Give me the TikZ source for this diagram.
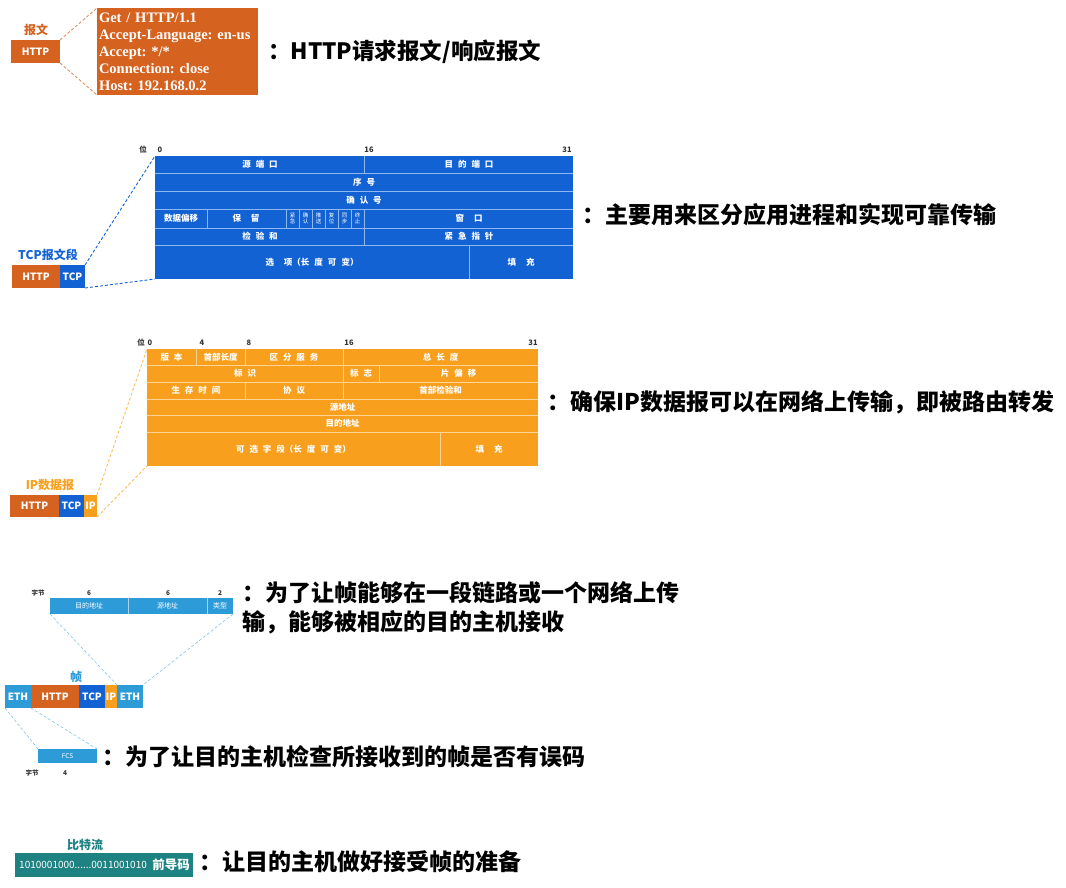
\documentclass[tikz,border=0pt]{standalone}
\usepackage{fontspec}
\newfontfamily\cjk{Noto Sans CJK SC}
\newfontfamily\tms{Liberation Serif}
\definecolor{httpc}{HTML}{D5621F}
\definecolor{tcpc}{HTML}{1262D4}
\definecolor{tcpl}{HTML}{8DB9F2}
\definecolor{ipc}{HTML}{F8A01E}
\definecolor{ipl}{HTML}{FCD594}
\definecolor{ethc}{HTML}{2E9BD9}
\definecolor{ethl}{HTML}{A9D4F0}
\definecolor{bitc}{HTML}{1E8282}
\definecolor{numc}{HTML}{333333}
\newcommand\mybox[7]{\node[blk, fill=#6, minimum width=#4pt, minimum height=#5pt] (#1) at (#2,#3) {#7};}
\newcommand\gsp{\hspace{5pt}}
\frenchspacing
\begin{document}
\begin{tikzpicture}[x=1pt,y=-1pt,
  blk/.style={inner sep=0pt, outer sep=0pt, anchor=north west, text=white, font=\cjk\bfseries\fontsize{10}{11}\selectfont},
  lbl/.style={inner sep=0pt, text=white, font=\cjk\bfseries\fontsize{8.5}{9}\selectfont},
  flg/.style={inner sep=0pt, text=white, align=center, font=\cjk\fontsize{5.5}{6.5}\selectfont},
  num/.style={inner sep=0pt, text=numc, font=\cjk\bfseries\fontsize{7.5}{8}\selectfont},
  ttl/.style={inner sep=0pt, font=\cjk\bfseries\fontsize{12}{13}\selectfont},
  desc/.style={inner sep=0pt, anchor=west, text=black, font=\cjk\bfseries\fontsize{23}{29}\selectfont},
  conn/.style={dashed, line width=0.9pt, dash pattern=on 3pt off 2pt}
]
\useasboundingbox (0,0) rectangle (1066,888);

% ---------------- HTTP ----------------
\node[ttl, text=httpc] (lbhttp) at (36,30) {报文};
\mybox{http1}{11}{40}{49}{23}{httpc}{HTTP}
\node[inner sep=0pt, outer sep=0pt, anchor=north west, fill=httpc, minimum width=161pt, minimum height=87pt,
      text width=157pt, inner xsep=2pt, align=left, text=white,
      font=\tms\bfseries\fontsize{14.5}{17}\selectfont] (msg) at (97,8)
  {Get / HTTP/1.1\\Accept-Language: en-us\\Accept: */*\\Connection: close\\Host: 192.168.0.2};
\draw[conn, draw=httpc!70] (http1.north east) -- (msg.north west);
\draw[conn, draw=httpc!70] (http1.south east) -- (msg.south west);
\node[desc, font=\cjk\bfseries\fontsize{22.5}{29}\selectfont] (d1) at (268,52) {：HTTP请求报文/响应报文};

% ---------------- TCP ----------------
\node[num] (tb) at (143,150) {位};
\node[num] (t0) at (160,150) {0};
\node[num] (t16) at (369,150) {16};
\node[num] (t31) at (567,150) {31};
\node[inner sep=0pt, outer sep=0pt, anchor=north west, fill=tcpc, minimum width=418pt, minimum height=123pt] (tcph) at (155,156) {};
\begin{scope}[draw=tcpl, line width=0.8pt]
  \foreach \y in {173,191,209,228,245} \draw (155,\y) -- (573,\y);
  \draw (364,156) -- (364,173);
  \foreach \x in {207,286,299,312,325,338,351,364} \draw (\x,209) -- (\x,228);
  \draw (364,228) -- (364,245);
  \draw (469,245) -- (469,279);
\end{scope}
\node[lbl] at (260,164.5) {源\gsp 端\gsp 口};
\node[lbl] at (469,164.5) {目\gsp 的\gsp 端\gsp 口};
\node[lbl] at (364,182) {序\gsp 号};
\node[lbl] at (364,200) {确\gsp 认\gsp 号};
\node[lbl] at (181,218.5) {数据偏移};
\node[lbl] at (246,218.5) {保\gsp\gsp 留};
\node[flg] at (292.5,218.5) {紧\\急};
\node[flg] at (305.5,218.5) {确\\认};
\node[flg] at (318.5,218.5) {推\\送};
\node[flg] at (331.5,218.5) {复\\位};
\node[flg] at (344.5,218.5) {同\\步};
\node[flg] at (357.5,218.5) {终\\止};
\node[lbl] at (469,218.5) {窗\gsp\gsp 口};
\node[lbl] at (260,236.5) {检\gsp 验\gsp 和};
\node[lbl] at (469,236.5) {紧\gsp 急\gsp 指\gsp 针};
\node[lbl] at (312,262) {选\gsp\gsp 项（长\gsp 度\gsp 可\gsp 变）};
\node[lbl] at (521,262) {填\gsp\gsp 充};
\node[ttl, text=tcpc] (lbtcp) at (48,255) {TCP报文段};
\mybox{tcphttp}{12}{265}{48}{23}{httpc}{HTTP}
\mybox{tcptcp}{60}{265}{25}{23}{tcpc}{TCP}
\draw[conn, draw=tcpc] (tcptcp.north east) -- (tcph.north west);
\draw[conn, draw=tcpc] (tcptcp.south east) -- (tcph.south west);
\node[desc] (d2) at (582,215) {：主要用来区分应用进程和实现可靠传输};

% ---------------- IP ----------------
\node[num] (ib) at (141,343) {位};
\node[num] (i0) at (150,343) {0};
\node[num] (i4) at (202,343) {4};
\node[num] (i8) at (249,343) {8};
\node[num] (i16) at (349,343) {16};
\node[num] (i31) at (533,343) {31};
\node[inner sep=0pt, outer sep=0pt, anchor=north west, fill=ipc, minimum width=391pt, minimum height=117pt] (iph) at (147,349) {};
\begin{scope}[draw=ipl, line width=0.8pt]
  \foreach \y in {365,382,399,415,432} \draw (147,\y) -- (538,\y);
  \foreach \x in {196,245,343} \draw (\x,349) -- (\x,365);
  \foreach \x in {343,379} \draw (\x,365) -- (\x,382);
  \foreach \x in {245,343} \draw (\x,382) -- (\x,399);
  \draw (440,432) -- (440,466);
\end{scope}
\node[lbl] at (171.5,357) {版\gsp 本};
\node[lbl] at (220.5,357) {首部长度};
\node[lbl] at (294,357) {区\gsp 分\gsp 服\gsp 务};
\node[lbl] at (440.5,357) {总\gsp 长\gsp 度};
\node[lbl] at (245,373.5) {标\gsp 识};
\node[lbl] at (361,373.5) {标\gsp 志};
\node[lbl] at (458.5,373.5) {片\gsp 偏\gsp 移};
\node[lbl] at (196,390.5) {生\gsp 存\gsp 时\gsp 间};
\node[lbl] at (294,390.5) {协\gsp 议};
\node[lbl] at (440.5,390.5) {首部检验和};
\node[lbl] at (342.5,407) {源地址};
\node[lbl] at (342.5,423.5) {目的地址};
\node[lbl] at (293.5,449) {可\gsp 选\gsp 字\gsp 段（长\gsp 度\gsp 可\gsp 变）};
\node[lbl] at (489,449) {填\gsp\gsp 充};
\node[ttl, text=ipc] (lbip) at (50,485) {IP数据报};
\mybox{iphttp}{10}{495}{49}{22}{httpc}{HTTP}
\mybox{iptcp}{59}{495}{25}{22}{tcpc}{TCP}
\mybox{ipip}{84}{495}{13}{22}{ipc}{IP}
\draw[conn, draw=ipc!70] (ipip.north east) -- (iph.north west);
\draw[conn, draw=ipc!70] (ipip.south east) -- (iph.south west);
\node[desc] (d3) at (547,402) {：确保IP数据报可以在网络上传输，即被路由转发};

% ---------------- Ethernet ----------------
\node[num, font=\cjk\bfseries\fontsize{6.5}{7}\selectfont] (eb1) at (38,593) {字节};
\node[num, font=\cjk\bfseries\fontsize{6.5}{7}\selectfont] (e6a) at (89,593) {6};
\node[num, font=\cjk\bfseries\fontsize{6.5}{7}\selectfont] (e6b) at (168,593) {6};
\node[num, font=\cjk\bfseries\fontsize{6.5}{7}\selectfont] (e2) at (220,593) {2};
\node[inner sep=0pt, outer sep=0pt, anchor=north west, fill=ethc, minimum width=183pt, minimum height=16pt] (ethh) at (50,598) {};
\draw[ethl, line width=0.7pt] (128,598) -- (128,614) (207,598) -- (207,614);
\node[lbl, font=\cjk\fontsize{7}{7}\selectfont] at (89,606) {目的地址};
\node[lbl, font=\cjk\fontsize{7}{7}\selectfont] at (167.5,606) {源地址};
\node[lbl, font=\cjk\fontsize{7}{7}\selectfont] at (220,606) {类型};
\node[ttl, text=ethc] (lbeth) at (76,677) {帧};
\mybox{eth1}{5}{685}{26}{23}{ethc}{ETH}
\mybox{fhttp}{31}{685}{48}{23}{httpc}{HTTP}
\mybox{ftcp}{79}{685}{26}{23}{tcpc}{TCP}
\mybox{fip}{105}{685}{12}{23}{ipc}{IP}
\mybox{eth2}{117}{685}{26}{23}{ethc}{ETH}
\draw[conn, draw=ethc!60, line width=0.6pt] (ethh.south west) -- (eth2.north west);
\draw[conn, draw=ethc!60, line width=0.6pt] (ethh.south east) -- (eth2.north east);
\node[inner sep=0pt, outer sep=0pt, anchor=north west, fill=ethc, minimum width=59pt, minimum height=14pt,
      text=white, font=\cjk\fontsize{6.5}{7}\selectfont] (fcs) at (38,749) {FCS};
\draw[conn, draw=ethc!60, line width=0.6pt] (eth1.south west) -- (fcs.north west);
\draw[conn, draw=ethc!60, line width=0.6pt] (eth1.south east) -- (fcs.north east);
\node[num, font=\cjk\bfseries\fontsize{6.5}{7}\selectfont] (eb2) at (32,773) {字节};
\node[num, font=\cjk\bfseries\fontsize{6.5}{7}\selectfont] (e4) at (65,773) {4};
\node[desc] (d4a) at (242,593) {：为了让帧能够在一段链路或一个网络上传};
\node[desc] (d4b) at (242,622) {输，能够被相应的目的主机接收};
\node[desc] (d5) at (102,757) {：为了让目的主机检查所接收到的帧是否有误码};

% ---------------- Bit stream ----------------
\node[ttl, text=bitc] (lbbit) at (85,845) {比特流};
\node[inner sep=0pt, outer sep=0pt, anchor=north west, fill=bitc, minimum width=178pt, minimum height=24pt] (bits) at (15,853) {};
\node[inner sep=0pt, anchor=west, text=white, font=\cjk\fontsize{10}{11}\selectfont] (bnum) at (19,865) {1010001000......0011001010};
\node[inner sep=0pt, anchor=east, text=white, font=\cjk\bfseries\fontsize{12.5}{13}\selectfont] (pre) at (190,865) {前导码};
\node[desc] (d6) at (199,862) {：让目的主机做好接受帧的准备};
\end{tikzpicture}
\end{document}
